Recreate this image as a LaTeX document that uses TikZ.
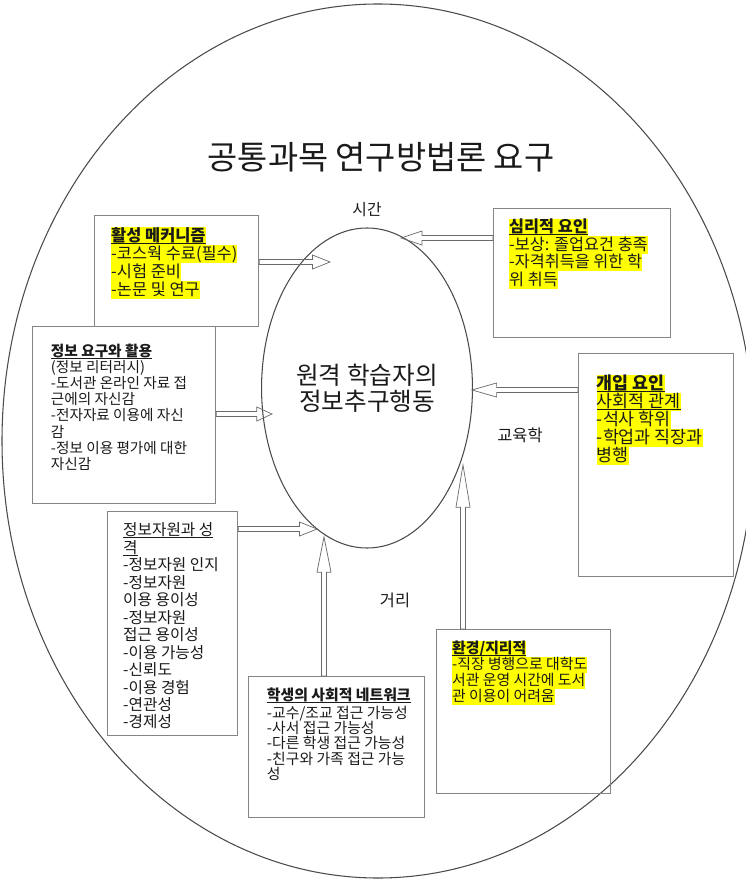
\documentclass[tikz,border=0pt]{standalone}
\usepackage{fontspec}
\setmainfont{Noto Sans CJK KR}
\usetikzlibrary{calc,positioning,shapes.geometric}
\definecolor{HiYellow}{HTML}{FFFF00}
\definecolor{BoxGray}{HTML}{858585}
\definecolor{LineGray}{HTML}{4A4A4A}
\definecolor{ArrowGray}{HTML}{6A6A6A}
\definecolor{InkBlack}{HTML}{1A1A1A}
\newsavebox{\ulbox}
\newcommand{\hl}[1]{{\setlength{\fboxsep}{0pt}\colorbox{HiYellow}{\rule[-0.2\baselineskip]{0pt}{\baselineskip}\smash{#1}}}}
\newcommand{\ul}[1]{\sbox{\ulbox}{#1}\rlap{\rule[-1.9pt]{\wd\ulbox}{0.6pt}}\usebox{\ulbox}}
\newcommand{\hd}[1]{\ul{\textbf{#1}}}
\tikzset{
  blockarrow/.style={draw=ArrowGray,line width=0.6pt,to path={
    let \p1=(\tikztostart),\p2=(\tikztotarget),
        \n1={atan2(\y2-\y1,\x2-\x1)},\n2={veclen(\x2-\x1,\y2-\y1)} in
    [shift={(\p1)},rotate=\n1]
    (0pt,-2.2pt) -- ({\n2-#1},-2.2pt) -- ({\n2-#1},-6pt) -- (\n2,0pt)
    -- ({\n2-#1},6pt) -- ({\n2-#1},2.2pt) -- (0pt,2.2pt) -- cycle}},
  blockarrow/.default=15pt
}

\begin{document}
\begin{tikzpicture}[x=0.03cm,y=-0.03cm,
    box/.style={draw=BoxGray,line width=1pt,anchor=north west,inner sep=0pt},
    txt/.style={inner sep=0pt,align=left,text=InkBlack},
    tag/.style={text=InkBlack,font=\fontsize{14}{16}\selectfont}]
  \useasboundingbox (0,0) rectangle (745,881);
  % outer frame
  \draw[LineGray,line width=0.9pt] (378,441) ellipse [x radius=376,y radius=437];
  \node[text=InkBlack,font=\fontsize{28}{34}\selectfont] (title) at (381,157) {공통과목 연구방법론 요구};
  \node[ellipse,draw=LineGray,line width=0.9pt,minimum width=6.3cm,minimum height=9.6cm,align=center,
    text=InkBlack,font=\fontsize{21}{22}\selectfont] (core) at (367,388) {원격 학습자의\\정보추구행동};
  \node[tag,font=\fontsize{13.5}{16}\selectfont] (time) at (367,210) {시간};
  \node[tag] (edu) at (520,435) {교육학};
  \node[tag] (dist) at (395,600) {거리};

  % boxes
  \node[box,minimum width=4.92cm,minimum height=3.33cm] (mech) at (94,215) {};
  \node[box,minimum width=5.31cm,minimum height=3.87cm] (psych) at (493,208) {};
  \node[box,minimum width=5.49cm,minimum height=5.31cm] (need) at (32,326) {};
  \node[box,minimum width=4.65cm,minimum height=6.69cm] (inter) at (578,353) {};
  \node[box,minimum width=3.9cm,minimum height=6.72cm] (resrc) at (107,511) {};
  \node[box,minimum width=5.28cm,minimum height=4.23cm] (social) at (248,676) {};
  \node[box,minimum width=5.22cm,minimum height=4.92cm] (env) at (436,629) {};

  \node[txt,font=\fontsize{14}{15.3}\selectfont,below right=10pt and 14.5pt of mech.north west] (mechtext)
    {\hl{\hd{활성 메커니즘}}\\\hl{-코스웍 수료(필수)}\\\hl{-시험 준비}\\\hl{-논문 및 연구}};
  \node[txt,font=\fontsize{13.9}{14.9}\selectfont,below right=9pt and 13.6pt of psych.north west] (psychtext)
    {\hl{\hd{심리적 요인}}\\\hl{-보상: 졸업요건 충족}\\\hl{-자격취득을 위한 학}\\\hl{위 취득}};
  \node[txt,font=\fontsize{12.5}{13.8}\selectfont,below right=15pt and 16pt of need.north west] (needtext)
    {\hd{정보 요구와 활용}\\(정보 리터러시)\\-도서관 온라인 자료 접\\근에의 자신감\\-전자자료 이용에 자신\\감\\-정보 이용 평가에 대한\\자신감};
  \node[txt,font=\fontsize{14.8}{15.3}\selectfont,below right=19pt and 16pt of inter.north west] (intertext)
    {\hl{\hd{개입 요인}}\\\hl{\ul{사회적 관계}}\\\hl{-석사 학위}\\\hl{-학업과 직장과}\\\hl{병행}};
  \node[txt,font=\fontsize{13.4}{14.9}\selectfont,below right=10pt and 13.6pt of resrc.north west] (resrctext)
    {\ul{정보자원과 성}\\\ul{격}\\-정보자원 인지\\-정보자원\\이용 용이성\\-정보자원\\접근 용이성\\-이용 가능성\\-신뢰도\\-이용 경험\\-연관성\\-경제성};
  \node[txt,font=\fontsize{12.7}{13}\selectfont,below right=10pt and 16pt of social.north west] (socialtext)
    {\hd{학생의 사회적 네트워크}\\[2.2pt]-교수/조교 접근 가능성\\-사서 접근 가능성\\-다른 학생 접근 가능성\\-친구와 가족 접근 가능\\성};
  \node[txt,font=\fontsize{12.7}{13.6}\selectfont,below right=10pt and 13.6pt of env.north west] (envtext)
    {\hl{\hd{환경/지리적}}\\\hl{-직장 병행으로 대학도}\\\hl{서관 운영 시간에 도서}\\\hl{관 이용이 어려움}};

  % arrow tips
  \coordinate (mechtip) at (330,262);
  \coordinate (psychtip) at (401,238);
  \coordinate (needtip) at (272,414);
  \coordinate (intertip) at (472,390);
  \coordinate (resrctip) at (317,529);
  \coordinate (socialtip) at (324,537);
  \coordinate (envtip) at (463,465);
  \foreach \src/\tip/\len in {mech.east |- mechtip/mechtip/15pt,psych.west |- psychtip/psychtip/18pt,
      need.east |- needtip/needtip/13pt,inter.west |- intertip/intertip/21pt,resrc.east |- resrctip/resrctip/15pt,
      social.north -| socialtip/socialtip/30pt,env.north -| envtip/envtip/36pt}{\draw[blockarrow=\len] (\src) to (\tip);}
\end{tikzpicture}
\end{document}
